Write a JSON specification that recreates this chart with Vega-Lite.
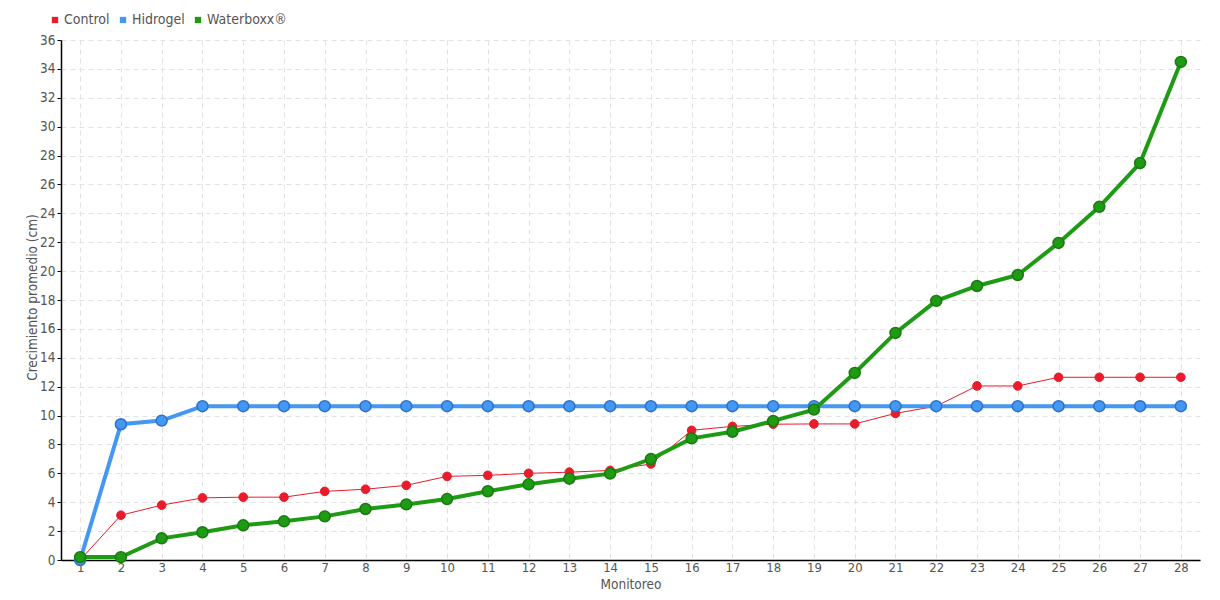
{
  "$schema": "https://vega.github.io/schema/vega-lite/v6.json",
  "autosize": "none",
  "width": 1139,
  "height": 520,
  "padding": {"left": 61, "top": 40, "right": 20, "bottom": 40},
  "background": "white",
  "config": {
    "font": "DejaVu Sans Condensed",
    "view": {"stroke": null},
    "axis": {
      "labelFont": "DejaVu Sans Condensed",
      "titleFont": "DejaVu Sans Condensed",
      "labelColor": "#555555",
      "titleColor": "#555555",
      "labelFontSize": 13.5,
      "titleFontSize": 13.5,
      "titleFontWeight": "normal",
      "gridColor": "#e2e2e2",
      "gridDash": [5, 4],
      "gridWidth": 1,
      "domainColor": "#000000",
      "domainWidth": 1.5,
      "tickColor": "#000000"
    },
    "legend": {"labelFont": "DejaVu Sans Condensed"}
  },
  "data": {
    "values": [
      {"Monitoreo": 1, "serie": "Control", "valor": 0},
      {"Monitoreo": 2, "serie": "Control", "valor": 3.1},
      {"Monitoreo": 3, "serie": "Control", "valor": 3.8},
      {"Monitoreo": 4, "serie": "Control", "valor": 4.3},
      {"Monitoreo": 5, "serie": "Control", "valor": 4.35},
      {"Monitoreo": 6, "serie": "Control", "valor": 4.35},
      {"Monitoreo": 7, "serie": "Control", "valor": 4.75},
      {"Monitoreo": 8, "serie": "Control", "valor": 4.9},
      {"Monitoreo": 9, "serie": "Control", "valor": 5.17},
      {"Monitoreo": 10, "serie": "Control", "valor": 5.79},
      {"Monitoreo": 11, "serie": "Control", "valor": 5.86},
      {"Monitoreo": 12, "serie": "Control", "valor": 6.0},
      {"Monitoreo": 13, "serie": "Control", "valor": 6.08},
      {"Monitoreo": 14, "serie": "Control", "valor": 6.2},
      {"Monitoreo": 15, "serie": "Control", "valor": 6.65},
      {"Monitoreo": 16, "serie": "Control", "valor": 8.98},
      {"Monitoreo": 17, "serie": "Control", "valor": 9.25},
      {"Monitoreo": 18, "serie": "Control", "valor": 9.4},
      {"Monitoreo": 19, "serie": "Control", "valor": 9.42},
      {"Monitoreo": 20, "serie": "Control", "valor": 9.42},
      {"Monitoreo": 21, "serie": "Control", "valor": 10.15},
      {"Monitoreo": 22, "serie": "Control", "valor": 10.65},
      {"Monitoreo": 23, "serie": "Control", "valor": 12.05},
      {"Monitoreo": 24, "serie": "Control", "valor": 12.05},
      {"Monitoreo": 25, "serie": "Control", "valor": 12.65},
      {"Monitoreo": 26, "serie": "Control", "valor": 12.65},
      {"Monitoreo": 27, "serie": "Control", "valor": 12.65},
      {"Monitoreo": 28, "serie": "Control", "valor": 12.65},
      {"Monitoreo": 1, "serie": "Hidrogel", "valor": 0},
      {"Monitoreo": 2, "serie": "Hidrogel", "valor": 9.4},
      {"Monitoreo": 3, "serie": "Hidrogel", "valor": 9.65},
      {"Monitoreo": 4, "serie": "Hidrogel", "valor": 10.65},
      {"Monitoreo": 5, "serie": "Hidrogel", "valor": 10.65},
      {"Monitoreo": 6, "serie": "Hidrogel", "valor": 10.65},
      {"Monitoreo": 7, "serie": "Hidrogel", "valor": 10.65},
      {"Monitoreo": 8, "serie": "Hidrogel", "valor": 10.65},
      {"Monitoreo": 9, "serie": "Hidrogel", "valor": 10.65},
      {"Monitoreo": 10, "serie": "Hidrogel", "valor": 10.65},
      {"Monitoreo": 11, "serie": "Hidrogel", "valor": 10.65},
      {"Monitoreo": 12, "serie": "Hidrogel", "valor": 10.65},
      {"Monitoreo": 13, "serie": "Hidrogel", "valor": 10.65},
      {"Monitoreo": 14, "serie": "Hidrogel", "valor": 10.65},
      {"Monitoreo": 15, "serie": "Hidrogel", "valor": 10.65},
      {"Monitoreo": 16, "serie": "Hidrogel", "valor": 10.65},
      {"Monitoreo": 17, "serie": "Hidrogel", "valor": 10.65},
      {"Monitoreo": 18, "serie": "Hidrogel", "valor": 10.65},
      {"Monitoreo": 19, "serie": "Hidrogel", "valor": 10.65},
      {"Monitoreo": 20, "serie": "Hidrogel", "valor": 10.65},
      {"Monitoreo": 21, "serie": "Hidrogel", "valor": 10.65},
      {"Monitoreo": 22, "serie": "Hidrogel", "valor": 10.65},
      {"Monitoreo": 23, "serie": "Hidrogel", "valor": 10.65},
      {"Monitoreo": 24, "serie": "Hidrogel", "valor": 10.65},
      {"Monitoreo": 25, "serie": "Hidrogel", "valor": 10.65},
      {"Monitoreo": 26, "serie": "Hidrogel", "valor": 10.65},
      {"Monitoreo": 27, "serie": "Hidrogel", "valor": 10.65},
      {"Monitoreo": 28, "serie": "Hidrogel", "valor": 10.65},
      {"Monitoreo": 1, "serie": "Waterboxx®", "valor": 0.2},
      {"Monitoreo": 2, "serie": "Waterboxx®", "valor": 0.2},
      {"Monitoreo": 3, "serie": "Waterboxx®", "valor": 1.5},
      {"Monitoreo": 4, "serie": "Waterboxx®", "valor": 1.92},
      {"Monitoreo": 5, "serie": "Waterboxx®", "valor": 2.4},
      {"Monitoreo": 6, "serie": "Waterboxx®", "valor": 2.68},
      {"Monitoreo": 7, "serie": "Waterboxx®", "valor": 3.02},
      {"Monitoreo": 8, "serie": "Waterboxx®", "valor": 3.53},
      {"Monitoreo": 9, "serie": "Waterboxx®", "valor": 3.85},
      {"Monitoreo": 10, "serie": "Waterboxx®", "valor": 4.22},
      {"Monitoreo": 11, "serie": "Waterboxx®", "valor": 4.76},
      {"Monitoreo": 12, "serie": "Waterboxx®", "valor": 5.24},
      {"Monitoreo": 13, "serie": "Waterboxx®", "valor": 5.63},
      {"Monitoreo": 14, "serie": "Waterboxx®", "valor": 5.98},
      {"Monitoreo": 15, "serie": "Waterboxx®", "valor": 6.99},
      {"Monitoreo": 16, "serie": "Waterboxx®", "valor": 8.42},
      {"Monitoreo": 17, "serie": "Waterboxx®", "valor": 8.88},
      {"Monitoreo": 18, "serie": "Waterboxx®", "valor": 9.63},
      {"Monitoreo": 19, "serie": "Waterboxx®", "valor": 10.41},
      {"Monitoreo": 20, "serie": "Waterboxx®", "valor": 12.95},
      {"Monitoreo": 21, "serie": "Waterboxx®", "valor": 15.72},
      {"Monitoreo": 22, "serie": "Waterboxx®", "valor": 17.94},
      {"Monitoreo": 23, "serie": "Waterboxx®", "valor": 18.97},
      {"Monitoreo": 24, "serie": "Waterboxx®", "valor": 19.73},
      {"Monitoreo": 25, "serie": "Waterboxx®", "valor": 21.95},
      {"Monitoreo": 26, "serie": "Waterboxx®", "valor": 24.45},
      {"Monitoreo": 27, "serie": "Waterboxx®", "valor": 27.48},
      {"Monitoreo": 28, "serie": "Waterboxx®", "valor": 34.48}
    ]
  },
  "encoding": {
    "x": {
      "field": "Monitoreo",
      "type": "ordinal",
      "scale": {"type": "point", "padding": 0.47},
      "axis": {
        "title": "Monitoreo",
        "labelAngle": 0,
        "ticks": false,
        "labelPadding": 1,
        "labelFontSize": 13,
        "titleBaseline": "middle",
        "titleY": 24,
        "grid": true
      }
    },
    "y": {
      "field": "valor",
      "type": "quantitative",
      "scale": {"domain": [0, 36], "nice": false},
      "axis": {
        "title": "Crecimiento promedio (cm)",
        "values": [0, 2, 4, 6, 8, 10, 12, 14, 16, 18, 20, 22, 24, 26, 28, 30, 32, 34, 36],
        "tickSize": 4,
        "labelPadding": 2,
        "titleX": -29,
        "titleY": 257,
        "titleBaseline": "middle",
        "grid": true
      }
    },
    "color": {
      "field": "serie",
      "type": "nominal",
      "scale": {"domain": ["Control", "Hidrogel", "Waterboxx®"], "range": ["#e81c2b", "#4497f3", "#1f9a14"]},
      "legend": {
        "title": null,
        "orient": "none",
        "legendX": -13,
        "legendY": -27,
        "direction": "horizontal",
        "symbolType": "square",
        "symbolSize": 40,
        "symbolStrokeWidth": 0,
        "labelFontSize": 14,
        "labelColor": "#555555",
        "labelOffset": 2,
        "columnPadding": 6,
        "encode": {
          "symbols": {
            "update": {
              "fill": {"scale": "color", "field": "value"},
              "fillOpacity": {"value": 1},
              "stroke": {"value": "transparent"}
            }
          }
        }
      }
    }
  },
  "layer": [
    {
      "transform": [{"filter": "datum.serie === 'Control'"}],
      "mark": {"type": "line", "strokeWidth": 1, "color": "#ef2b3a"}
    },
    {
      "transform": [{"filter": "datum.serie === 'Control'"}],
      "mark": {"type": "point", "filled": true, "opacity": 1, "size": 75, "stroke": "#e81c2b", "strokeWidth": 1}
    },
    {
      "transform": [{"filter": "datum.serie === 'Hidrogel'"}],
      "mark": {"type": "line", "strokeWidth": 4}
    },
    {
      "transform": [{"filter": "datum.serie === 'Hidrogel'"}],
      "mark": {"type": "point", "filled": true, "opacity": 1, "size": 120, "stroke": "#2a73c8", "strokeWidth": 1.5}
    },
    {
      "transform": [{"filter": "datum.serie === 'Waterboxx®'"}],
      "mark": {"type": "line", "strokeWidth": 4}
    },
    {
      "transform": [{"filter": "datum.serie === 'Waterboxx®'"}],
      "mark": {"type": "point", "filled": true, "opacity": 1, "size": 120, "stroke": "#197a10", "strokeWidth": 1.5}
    }
  ]
}
